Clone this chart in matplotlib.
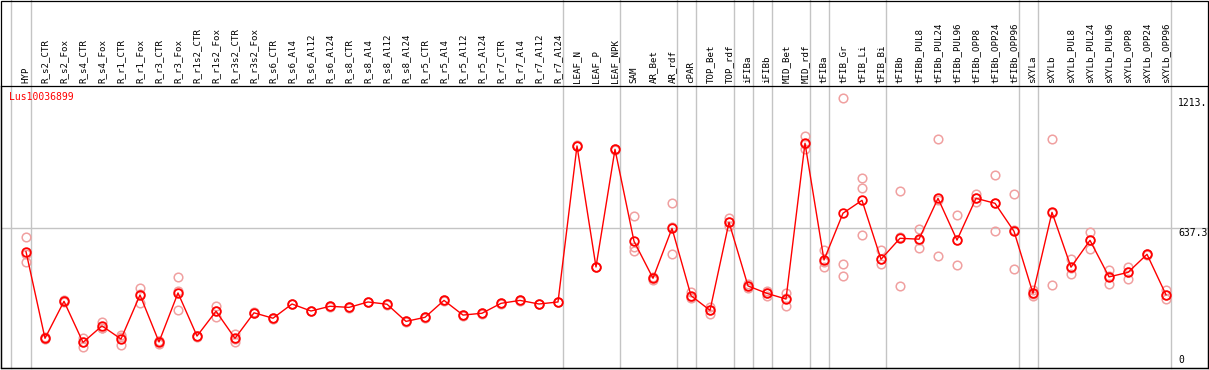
import matplotlib
matplotlib.use("Agg")
import matplotlib.pyplot as plt
from matplotlib.patches import Rectangle

categories = ["HYP", "R_s2_CTR", "R_s2_Fox", "R_s4_CTR", "R_s4_Fox", "R_r1_CTR", "R_r1_Fox",
              "R_r3_CTR", "R_r3_Fox", "R_r1s2_CTR", "R_r1s2_Fox", "R_r3s2_CTR", "R_r3s2_Fox",
              "R_s6_CTR", "R_s6_Al4", "R_s6_Al12", "R_s6_Al24", "R_s8_CTR", "R_s8_Al4", "R_s8_Al12",
              "R_s8_Al24", "R_r5_CTR", "R_r5_Al4", "R_r5_Al12", "R_r5_Al24", "R_r7_CTR", "R_r7_Al4",
              "R_r7_Al12", "R_r7_Al24", "LEAF_N", "LEAF_P", "LEAF_NPK", "SAM", "AR_Bet", "AR_rdf",
              "cPAR", "TOP_Bet", "TOP_rdf", "iFIBa", "iFIBb", "MID_Bet", "MID_rdf", "tFIBa",
              "tFIB_Gr", "tFIB_Li", "tFIB_Bi", "tFIBb", "tFIBb_PUL8", "tFIBb_PUL24", "tFIBb_PUL96",
              "tFIBb_OPP8", "tFIBb_OPP24", "tFIBb_OPP96", "sXYLa", "sXYLb", "sXYLb_PUL8",
              "sXYLb_PUL24", "sXYLb_PUL96", "sXYLb_OPP8", "sXYLb_OPP24", "sXYLb_OPP96"]

mean_values = [534, 150, 314, 132, 205, 147, 342, 134, 351, 160, 270, 150, 263,
               239, 302, 271, 292, 287, 311, 301, 225, 243, 318, 253, 261, 305, 318, 302, 311,
               1002, 466, 987, 580, 416, 637, 339, 274, 664, 382, 349, 324, 1014, 497,
               704, 761, 500, 593, 589, 770, 585, 770, 748, 624, 349, 708, 465,
               584, 422, 442, 522, 343]

replicates = [
    [597, 522, 487], [145, 150, 155], [310, 314, 318], [150, 113, 133], [224, 194, 197],
    [165, 120, 156], [372, 308, 346], [140, 125, 137], [420, 274, 359], [160, 158, 162],
    [293, 246, 271], [168, 134, 148], [261, 263, 265],
    [237, 239, 241], [300, 302, 304], [269, 271, 273], [290, 292, 294], [285, 287, 289],
    [309, 311, 313], [299, 301, 303], [223, 225, 227], [241, 243, 245], [316, 318, 320],
    [251, 253, 255], [259, 261, 263], [303, 305, 307], [316, 318, 320], [300, 302, 304],
    [309, 311, 313],
    [1000, 1002, 1004], [464, 466, 468], [985, 987, 989],
    [693, 556, 537], [422, 408, 418], [748, 522, 641], [354, 330, 333], [290, 258, 274],
    [682, 647, 663], [389, 374, 383], [360, 337, 350], [349, 294, 329], [1046, 987, 1009],
    [541, 467, 488], [1213, 479, 426], [860, 814, 608], [541, 478, 501], [802, 380, 597],
    [634, 549, 584], [1031, 515, 764], [695, 475, 585], [788, 752, 770], [872, 624, 748],
    [788, 456, 628], [364, 337, 346], [1031, 386, 707], [500, 434, 461], [620, 547, 585],
    [453, 389, 424], [467, 414, 445], [520, 522, 524], [364, 324, 341]]

group_ends = [0, 28, 31, 34, 35, 37, 38, 39, 41, 42, 45, 52, 53, 60]
gene_name = "Lus10036899"
ytick_vals = [1213, 637.3, 0]
ytick_labels = ["1213.", "637.3", "0"]

W, H = 1209, 370
fig = plt.figure(figsize=(W / 100, H / 100), dpi=100)
fig.patch.set_facecolor("white")

# pixel geometry
px_left, px_right, px_top, px_bot = 1.0, 1207.7, 86.0, 368.0
x0, dx = 26.0, 19.0
ax = fig.add_axes([px_left / W, (H - px_bot) / H, (px_right - px_left) / W, (px_bot - px_top) / H])
ax.set_xlim((px_left - x0) / dx, (px_right - x0) / dx)
ax.set_ylim(18.6, 1267.4)
ax.set_facecolor("white")
for s in ax.spines.values():
    s.set_color("black")
    s.set_linewidth(0.9)

xs = list(range(len(categories)))

# separators
ymax_ext = px_bot / (px_bot - px_top)
ax.axvline((10.7 - x0) / dx, ymin=0, ymax=ymax_ext, color="#c4c4c4", lw=1.0, clip_on=False, zorder=1)
for g in group_ends:
    ax.axvline(g + 0.24, ymin=0, ymax=ymax_ext, color="#c4c4c4", lw=1.0, clip_on=False, zorder=1)
ax.axhline(637.3, color="#c4c4c4", lw=1.0, zorder=1)

# replicates
for i, reps in enumerate(replicates):
    ax.plot([i] * len(reps), reps, linestyle="none", marker="o", markersize=6.2,
            markerfacecolor="none", markeredgecolor="#f0a0a0", markeredgewidth=1.1, zorder=2)

# mean line
ax.plot(xs, mean_values, color="red", lw=1.0, marker="o", markersize=6.2,
        markerfacecolor="none", markeredgecolor="red", markeredgewidth=1.3, zorder=3)

# category labels on top
ax.xaxis.tick_top()
ax.set_xticks(xs)
ax.set_xticklabels(categories, rotation=90, family="DejaVu Sans Mono", fontsize=6.6,
                   va="bottom", ha="center")
ax.tick_params(axis="x", length=0, pad=2.5)
ax.set_yticks([])

# right value labels
xr = (1178 - px_left) / (px_right - px_left)
for v, lab in zip(ytick_vals, ytick_labels):
    if v == 0:
        ax.text(xr, 0.012, lab, transform=ax.transAxes, family="DejaVu Sans Mono",
                fontsize=7, va="bottom", ha="left")
    else:
        ax.text(xr, v, lab, transform=ax.get_yaxis_transform(), family="DejaVu Sans Mono",
                fontsize=7, va="top", ha="left")

ax.text((9 - px_left) / (px_right - px_left), (px_bot - 97.5) / (px_bot - px_top), gene_name,
        transform=ax.transAxes, color="red", family="DejaVu Sans Mono", fontsize=7,
        va="center", ha="left")

# outer frame
fig.add_artist(Rectangle((px_left / W, (H - px_bot) / H), (px_right - px_left) / W,
                         (px_bot - 0.6) / H, transform=fig.transFigure, fill=False,
                         edgecolor="black", lw=0.9))

fig.savefig("out.png", dpi=100)
